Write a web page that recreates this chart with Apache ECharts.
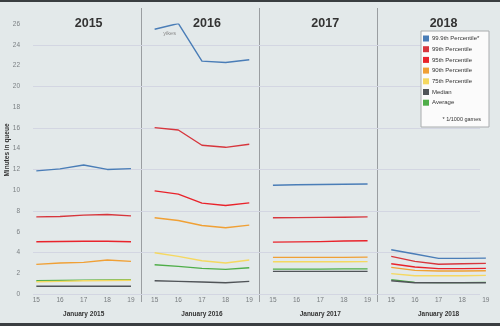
<!DOCTYPE html>
<html>
<head>
<meta charset="utf-8">
<script src="https://cdn.jsdelivr.net/npm/echarts@6/dist/echarts.min.js"></script>
<style>
html,body{margin:0;padding:0;background:#e3e9ea;}
#c{width:500px;height:326px;}
</style>
</head>
<body>
<div id="c"></div>
<script>
const years = ['2015', '2016', '2017', '2018'];
const xTicks = ['15', '16', '17', '18', '19'];
const monthLabels = ['January 2015', 'January 2016', 'January 2017', 'January 2018'];
const seriesNames = ['99.9th Percentile*', '99th Percentile', '95th Percentile', '90th Percentile', '75th Percentile', 'Median', 'Average'];
const p999 = [[11.86, 12.05, 12.43, 12.0, 12.08], [25.5, 26.06, 22.43, 22.3, 22.57], [10.48, 10.52, 10.55, 10.57, 10.6], [4.26, 3.85, 3.43, 3.43, 3.46]];
const p99 = [[7.43, 7.47, 7.6, 7.66, 7.53], [16.03, 15.8, 14.33, 14.13, 14.42], [7.34, 7.36, 7.38, 7.4, 7.43], [3.62, 3.14, 2.86, 2.92, 2.95]];
const p95 = [[5.03, 5.06, 5.08, 5.08, 5.03], [9.93, 9.62, 8.75, 8.53, 8.78], [5.0, 5.02, 5.05, 5.1, 5.13], [2.92, 2.6, 2.44, 2.44, 2.47]];
const p90 = [[2.85, 2.98, 3.05, 3.27, 3.14], [7.34, 7.08, 6.6, 6.38, 6.63], [3.53, 3.53, 3.53, 3.53, 3.55], [2.56, 2.28, 2.21, 2.21, 2.24]];
const p75 = [[1.18, 1.22, 1.27, 1.3, 1.32], [3.97, 3.62, 3.2, 2.98, 3.27], [3.1, 3.1, 3.1, 3.1, 3.12], [1.96, 1.76, 1.76, 1.76, 1.79]];
const median = [[0.74, 0.74, 0.74, 0.74, 0.74], [1.28, 1.22, 1.15, 1.09, 1.22], [2.18, 2.18, 2.18, 2.18, 2.18], [1.28, 1.09, 1.09, 1.09, 1.09]];
const average = [[1.28, 1.3, 1.33, 1.36, 1.38], [2.82, 2.66, 2.47, 2.37, 2.53], [2.4, 2.4, 2.4, 2.42, 2.42], [1.38, 1.12, 1.1, 1.1, 1.12]];
const yTickMax = 26;
const yTickStep = 2;

const allData = [p999, p99, p95, p90, p75, median, average];
const colors = ['#4a7db7', '#d7363d', '#e9232b', '#f0a035', '#f5d860', '#505458', '#4fae49'];

const FONT = '"Liberation Sans Narrow", "Liberation Sans", Arial, sans-serif';
const panelLeft0 = 24.5, panelW = 118.3, gTop = 24.1, gBottom = 32;

const chart = echarts.init(document.getElementById('c'), null, {renderer: 'canvas'});

const grids = [{left: 33, right: 20, top: gTop, bottom: gBottom}];
const xAxes = [{gridIndex: 0, type: 'value', show: false, min: 0, max: 1}];
const yAxes = [{
  gridIndex: 0, type: 'value', min: 0, max: yTickMax, interval: yTickStep,
  axisLine: {show: false}, axisTick: {show: false},
  axisLabel: {color: '#7a7f82', fontSize: 6.5, margin: 13, fontFamily: FONT},
  splitLine: {show: true, lineStyle: {color: ['#d3d6e2', 'rgba(0,0,0,0)'], width: 1}}
}];
const titles = [];
const series = [];
const graphics = [
  {type: 'rect', shape: {x: 0, y: 0, width: 500, height: 2}, style: {fill: '#3a3e41'}, silent: true},
  {type: 'rect', shape: {x: 0, y: 323, width: 500, height: 3}, style: {fill: '#3a3e41'}, silent: true},
  {type: 'text', x: 7, y: 150, rotation: Math.PI / 2,
    style: {text: 'Minutes in queue', font: 'bold 6.5px ' + FONT, fill: '#333', align: 'center', verticalAlign: 'middle'}},
  {type: 'rect', shape: {x: 421, y: 31, width: 68, height: 96}, style: {fill: '#fbfbfb', stroke: '#a9acae', lineWidth: 1}, z: 10},
  {type: 'text', x: 481, y: 119, z: 11,
    style: {text: '* 1/1000 games', font: '5.5px ' + FONT, fill: '#333', align: 'right', verticalAlign: 'middle'}}
];

years.forEach((yr, i) => {
  const left = panelLeft0 + i * panelW;
  const gi = i + 1;
  grids.push({left: left, width: panelW, top: gTop, bottom: gBottom});
  xAxes.push({
    gridIndex: gi, type: 'category', data: xTicks, boundaryGap: true,
    axisLine: {show: false}, axisTick: {show: false}, splitLine: {show: false},
    axisLabel: {color: '#777b7e', fontSize: 6.5, margin: 3, fontFamily: FONT},
    name: monthLabels[i], nameLocation: 'middle', nameGap: 17,
    nameTextStyle: {color: '#333', fontSize: 6.5, fontWeight: 'bold', fontFamily: FONT}
  });
  yAxes.push({gridIndex: gi, type: 'value', min: 0, max: yTickMax, show: false});
  titles.push({
    text: yr, left: left + panelW / 2, top: 12, textAlign: 'center',
    textStyle: {fontSize: 12.5, fontWeight: 'bold', color: '#333', fontFamily: FONT}
  });
  if (i > 0) {
    const xl = Math.round(left) - 1.5;
    graphics.push({type: 'line', shape: {x1: xl, y1: 8, x2: xl, y2: 302}, style: {stroke: '#9a9ea1', lineWidth: 1}, silent: true});
  }
  seriesNames.forEach((nm, k) => {
    const s = {
      name: nm, type: 'line', xAxisIndex: gi, yAxisIndex: gi,
      data: allData[k][i], showSymbol: false, symbol: 'none', smooth: false,
      lineStyle: {color: colors[k], width: 1.4, join: 'round'}, itemStyle: {color: colors[k]},
      z: 3 + (6 - k), animation: false
    };
    if (k === 0 && i === 1) {
      s.markPoint = {
        symbol: 'circle', symbolSize: 1, silent: true,
        itemStyle: {color: 'rgba(0,0,0,0)'},
        label: {show: true, position: 'inside', formatter: 'yikes', offset: [15, 4], color: '#888', fontSize: 5.5, fontFamily: FONT},
        data: [{coord: [xTicks[0], p999[1][0]]}]
      };
    }
    series.push(s);
  });
});

chart.setOption({
  backgroundColor: '#e3e9ea',
  animation: false,
  title: titles,
  grid: grids,
  xAxis: xAxes,
  yAxis: yAxes,
  legend: {
    data: seriesNames, orient: 'vertical', left: 423, top: 35, z: 12,
    icon: 'rect', itemWidth: 6, itemHeight: 6, itemGap: 3.7, padding: 0,
    textStyle: {fontSize: 6, color: '#333', fontFamily: FONT, padding: [0, 0, 0, -2], lineHeight: 7},
    selectedMode: false
  },
  graphic: graphics,
  series: series
});
</script>
</body>
</html>
